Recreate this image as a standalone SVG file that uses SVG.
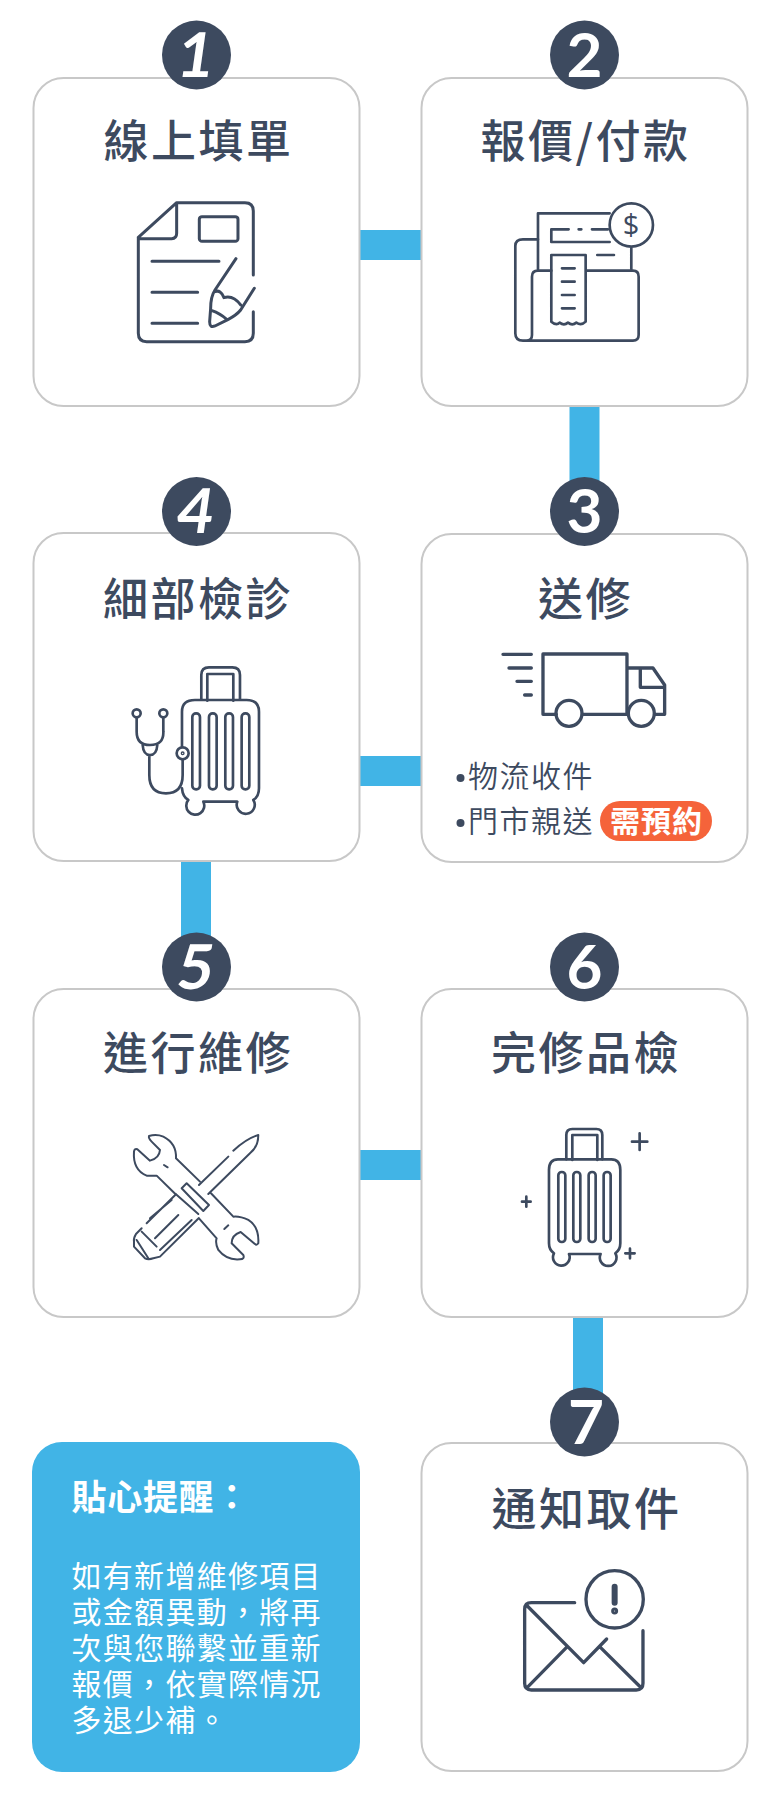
<svg xmlns="http://www.w3.org/2000/svg" width="776" height="1801" viewBox="0 0 776 1801">
<style>
text{font-family:"Noto Sans CJK TC","Noto Sans CJK SC",sans-serif}
.card{fill:#fff;stroke:#c8c8c8;stroke-width:2}
.conn{fill:#41b4e6}
.badge{fill:#3d4a5f}
.num{font-family:Lato,"Liberation Sans",sans-serif;font-weight:700;font-size:62px;fill:#fff;text-anchor:middle}
.title{font-size:45px;font-weight:500;fill:#3d4a5f;text-anchor:middle;letter-spacing:2.500px}
.ic{fill:none;stroke:#3d4a5f;stroke-width:9;stroke-linecap:round;stroke-linejoin:round}
.item{font-size:30px;font-weight:350;fill:#3d4a5f;letter-spacing:1.500px}
.body{font-size:30px;font-weight:400;fill:#fff;letter-spacing:1.300px}
</style>
<g id="connectors">
<rect class="conn" x="359" y="230" width="62" height="30"/>
<rect class="conn" x="569.500" y="406" width="30" height="80"/>
<rect class="conn" x="359" y="756" width="62" height="30"/>
<rect class="conn" x="181" y="861" width="30" height="90"/>
<rect class="conn" x="359" y="1150" width="62" height="30"/>
<rect class="conn" x="573" y="1317" width="30" height="85"/>
</g>
<g id="node-1">
<rect class="card" x="33.500" y="78" width="326" height="328" rx="30"/>
<circle class="badge" cx="196.500" cy="55" r="34.500"/>
<text class="num" x="196" y="77" transform="skewX(-8) translate(8 0)">1</text>
<text class="title" x="198.500" y="158">線上填單</text>
<g class="ic" transform="scale(.3333)">
<path d="M415 712L530 608H735Q760 608 760 633V825M760 935V1000Q760 1025 735 1025H440Q415 1025 415 1000V712M530 608V700Q530 716 515 716H415"/>
<rect x="598" y="650" width="116" height="74" rx="8"/>
<path d="M456 784H657M456 877H593M456 970H593M708 776L645 870Q632 890 632 925L629 965Q629 985 645 978L685 958Q710 945 722 930L763 865M645 875Q662 868 672 893Q700 885 722 915M636 932Q660 940 680 958"/>
</g>
</g>
<g id="node-2">
<rect class="card" x="421.500" y="78" width="326" height="328" rx="30"/>
<circle class="badge" cx="584.500" cy="55" r="34.500"/>
<text class="num" x="584.500" y="77">2</text>
<text class="title" x="585.500" y="158">報價/付款</text>
<g class="ic" style="stroke-width:8" transform="translate(388 0) scale(.3333)">
<path d="M450 808V640H665M730 745V808M542 688H490V726H665M572 688H580M612 688H660M628 765H678"/>
<circle cx="730" cy="675" r="65"/>
<path d="M450 718H405Q382 718 382 738V1000Q382 1022 405 1022H735Q752 1022 752 1005V830Q752 812 735 812H595M490 812H450Q432 812 432 830V1005Q432 1022 415 1022"/>
<path d="M490 765H593V965Q580 978 565 968Q553 978 540 968Q528 978 515 968Q505 978 490 965ZM522 805H560M522 845H560M522 885H560M522 925H560"/>
</g>
<text x="631" y="235" style="font-family:'Open Sans',sans-serif;font-size:29px;fill:#3d4a5f;text-anchor:middle">$</text>
</g>
<g id="node-3">
<rect class="card" x="421.500" y="534" width="326" height="328" rx="30"/>
<circle class="badge" cx="584.500" cy="511.500" r="34.500"/>
<text class="num" x="584.500" y="533">3</text>
<text class="title" x="585.500" y="616">送修</text>
<g class="ic" style="stroke-width:10" transform="translate(388 450) scale(.3333)">
<path d="M345 613H430M363 654H430M387 694H430M410 735H430M505 793H465V612H717V793M585 793H717M717 654H795L830 705V793H800M757 654V712H830"/>
<circle cx="543" cy="790" r="39"/>
<circle cx="760" cy="790" r="39"/>
</g>
<circle class="badge" cx="460.500" cy="778" r="4"/>
<circle class="badge" cx="460.500" cy="823" r="4"/>
<text class="item" x="468" y="787">物流收件</text>
<text class="item" x="468" y="832">門市親送</text>
<rect x="600" y="801" width="112" height="40" rx="20" fill="#f5633a"/>
<text x="610" y="832" style="font-size:30px;font-weight:700;fill:#fff;letter-spacing:1px">需預約</text>
</g>
<g id="node-4">
<rect class="card" x="33.500" y="533" width="326" height="328" rx="30"/>
<circle class="badge" cx="196.500" cy="511.500" r="34.500"/>
<text class="num" x="196" y="533" transform="skewX(-8) translate(72 0)">4</text>
<text class="title" x="198" y="616">細部檢診</text>
<g class="ic" style="stroke-width:8" transform="translate(0 450) scale(.3333)">
<path d="M604 748V675Q604 652 627 652H697Q720 652 720 675V748M622 752V672H700V752"/>
<path d="M546 890V785Q546 750 585 750H740Q777 750 777 785V1015Q777 1040 760 1050A27 27 0 1 1 712 1055H610A27 27 0 1 1 565 1050Q548 1040 546 1015"/>
<rect x="577" y="790" width="23" height="228" rx="11"/>
<rect x="627" y="790" width="23" height="228" rx="11"/>
<rect x="676" y="790" width="23" height="228" rx="11"/>
<rect x="725" y="790" width="23" height="228" rx="11"/>
<circle cx="410" cy="790" r="12"/>
<circle cx="490" cy="790" r="12"/>
<path d="M410 802V845Q410 885 450 885Q492 885 490 845V802M428 885Q430 915 450 915Q470 915 472 885M448 915V975Q448 1030 498 1030Q548 1030 548 975V928"/>
<circle cx="548" cy="910" r="18"/>
<circle cx="548" cy="910" r="2"/>
</g>
</g>
<g id="node-5">
<rect class="card" x="33.500" y="989" width="326" height="328" rx="30"/>
<circle class="badge" cx="196.500" cy="967" r="34.500"/>
<text class="num" x="196" y="989" transform="skewX(-8) translate(136 0)">5</text>
<text class="title" x="198" y="1070">進行維修</text>
<g class="ic" style="stroke-width:6" transform="translate(0 910) scale(.3333)">
<path d="M600 815L528 745Q530 700 490 680Q470 672 447 678Q445 685 455 695L480 720Q478 745 450 752L412 718Q403 715 402 725Q398 780 440 797H470L527 853"/>
<path d="M633 850L700 920Q720 918 745 930Q778 950 775 1000Q770 1008 762 1000L722 966Q695 975 695 1000L730 1035Q735 1047 720 1048Q680 1052 655 1020Q645 1000 650 985L597 925"/>
<path d="M492 765L503 772M673 957L685 946"/>
<path d="M597 825L685 740M700 722Q740 685 775 675Q775 710 750 730L625 852"/>
<path d="M545 835L560 820L627 885L610 903Z"/>
<path d="M528 853L595 912M528 853L440 940M425 955L408 972Q400 985 402 995V1010L435 1045Q445 1050 460 1045L480 1040L596 925M450 925L515 870M465 985L535 915M480 1020L575 930M425 965L470 1010M410 990L445 1045"/>
</g>
</g>
<g id="node-6">
<rect class="card" x="421.500" y="989" width="326" height="328" rx="30"/>
<circle class="badge" cx="584.500" cy="967" r="34.500"/>
<text class="num" x="584.500" y="989">6</text>
<text class="title" x="586" y="1070">完修品檢</text>
<g class="ic" style="stroke-width:8" transform="translate(388 910) scale(.3333)">
<path d="M535 748V675Q535 657 553 657H625Q643 657 643 675V748M553 750V675H628V750"/>
<path d="M510 748H670Q697 748 697 780V1000Q697 1020 682 1030A25 25 0 1 1 638 1032H543A25 25 0 1 1 498 1030Q483 1020 483 1000V780Q483 748 510 748Z"/>
<rect x="511" y="786" width="21" height="210" rx="10"/>
<rect x="556" y="786" width="21" height="210" rx="10"/>
<rect x="602" y="786" width="21" height="210" rx="10"/>
<rect x="647" y="786" width="21" height="210" rx="10"/>
<path d="M732 695H778M755 670V720M402 875H428M415 860V890M712 1030H740M726 1016V1045"/>
</g>
</g>
<g id="node-7">
<rect class="card" x="421.500" y="1443" width="326" height="328" rx="30"/>
<circle class="badge" cx="584.500" cy="1422" r="34.500"/>
<text class="num" x="586" y="1444">7</text>
<text class="title" x="586.500" y="1526">通知取件</text>
<g class="ic" style="stroke-width:10" transform="translate(388 1380) scale(.3333)">
<path d="M560 668H430Q410 668 410 688V910Q410 930 430 930H745Q765 930 765 910V752M418 678L587 848L656 777M418 922L535 803M638 803L758 922"/>
<circle cx="680" cy="658" r="86"/>
<path d="M680 620V668" style="stroke-width:18"/>
<circle cx="680" cy="693" r="6" style="stroke-width:9"/>
</g>
</g>
<g id="reminder">
<rect x="32" y="1442" width="328" height="330" rx="30" fill="#41b4e6"/>
<text x="71.500" y="1510" style="font-size:35px;font-weight:700;fill:#fff;letter-spacing:.7px">貼心提醒：</text>
<text class="body" x="71.500" y="1587">如有新增維修項目<tspan x="71.500" dy="36">或金額異動，將再</tspan><tspan x="71.500" dy="36">次與您聯繫並重新</tspan><tspan x="71.500" dy="36">報價，依實際情況</tspan><tspan x="71.500" dy="36">多退少補。</tspan></text>
</g>
</svg>
